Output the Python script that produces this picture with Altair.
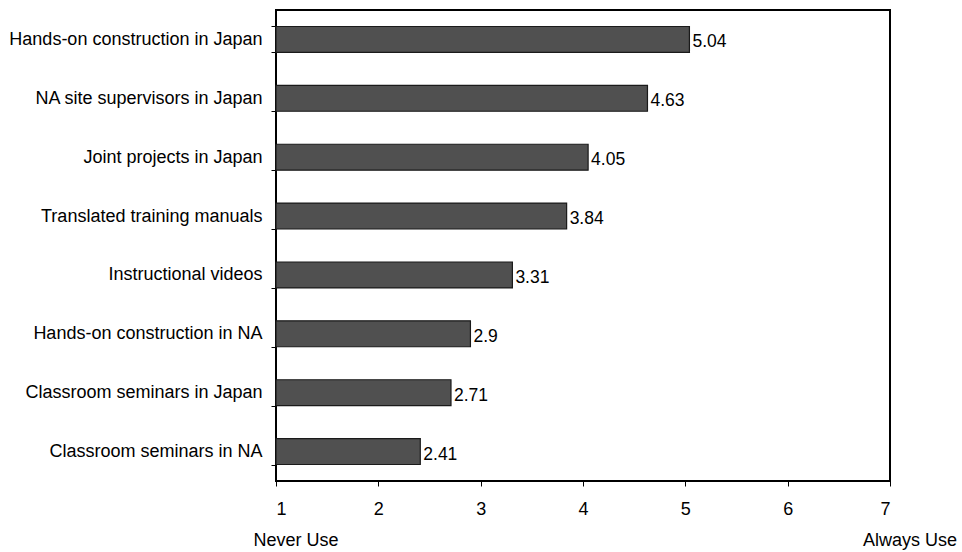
import altair as alt
import pandas as pd

categories = [
    "Hands-on construction in Japan",
    "NA site supervisors in Japan",
    "Joint projects in Japan",
    "Translated training manuals",
    "Instructional videos",
    "Hands-on construction in NA",
    "Classroom seminars in Japan",
    "Classroom seminars in NA",
]
values = [5.04, 4.63, 4.05, 3.84, 3.31, 2.9, 2.71, 2.41]
value_labels = ["5.04", "4.63", "4.05", "3.84", "3.31", "2.9", "2.71", "2.41"]
x_ticks = [1, 2, 3, 4, 5, 6, 7]
end_labels = ["Never Use", "Always Use"]
end_positions = [1, 7]

df = pd.DataFrame({"cat": categories, "val": values, "lab": value_labels, "base": [1] * len(values)})
ends = pd.DataFrame({"x": end_positions, "t": end_labels})

FONT = "Liberation Sans"

x_scale = alt.Scale(domain=[1, 7], nice=False, zero=False)
y_scale = alt.Scale(domain=categories, paddingInner=0.56, paddingOuter=0.28)

bars = alt.Chart(df).mark_bar(fill="#505050", stroke="#1a1a1a", strokeWidth=1.2).encode(
    x=alt.X("base:Q", scale=x_scale,
            axis=alt.Axis(values=x_ticks, title=None, tickSize=5, labelPadding=14,
                          labelFontSize=18, labelFont=FONT, labelColor="black",
                          tickColor="black", domain=False, grid=False, format="d")),
    x2="val:Q",
    y=alt.Y("cat:N", scale=y_scale, sort=categories,
            axis=alt.Axis(title=None, tickBand="extent", tickSize=5, labelPadding=9,
                          labelFontSize=18, labelFont=FONT, labelColor="black",
                          tickColor="black", domain=False, labelLimit=400)),
)

texts = alt.Chart(df).mark_text(align="left", baseline="middle", dx=3, dy=3,
                                fontSize=17.5, font=FONT, color="black").encode(
    x=alt.X("val:Q", scale=x_scale),
    y=alt.Y("cat:N", scale=y_scale, sort=categories),
    text="lab:N",
)

end_text = alt.Chart(ends).mark_text(align="center", baseline="middle", dx=20,
                                     fontSize=18, font=FONT, color="black").encode(
    x=alt.X("x:Q", scale=x_scale),
    y=alt.value(531),
    text="t:N",
)

chart = alt.layer(bars, texts, end_text).properties(
    width=614, height=471, autosize="none",
    padding={"left": 276, "top": 10, "right": 72, "bottom": 71},
    background="white",
).configure_view(stroke="black", strokeWidth=2)

chart.save("out.html", embed_options={"renderer": "svg", "actions": False})
